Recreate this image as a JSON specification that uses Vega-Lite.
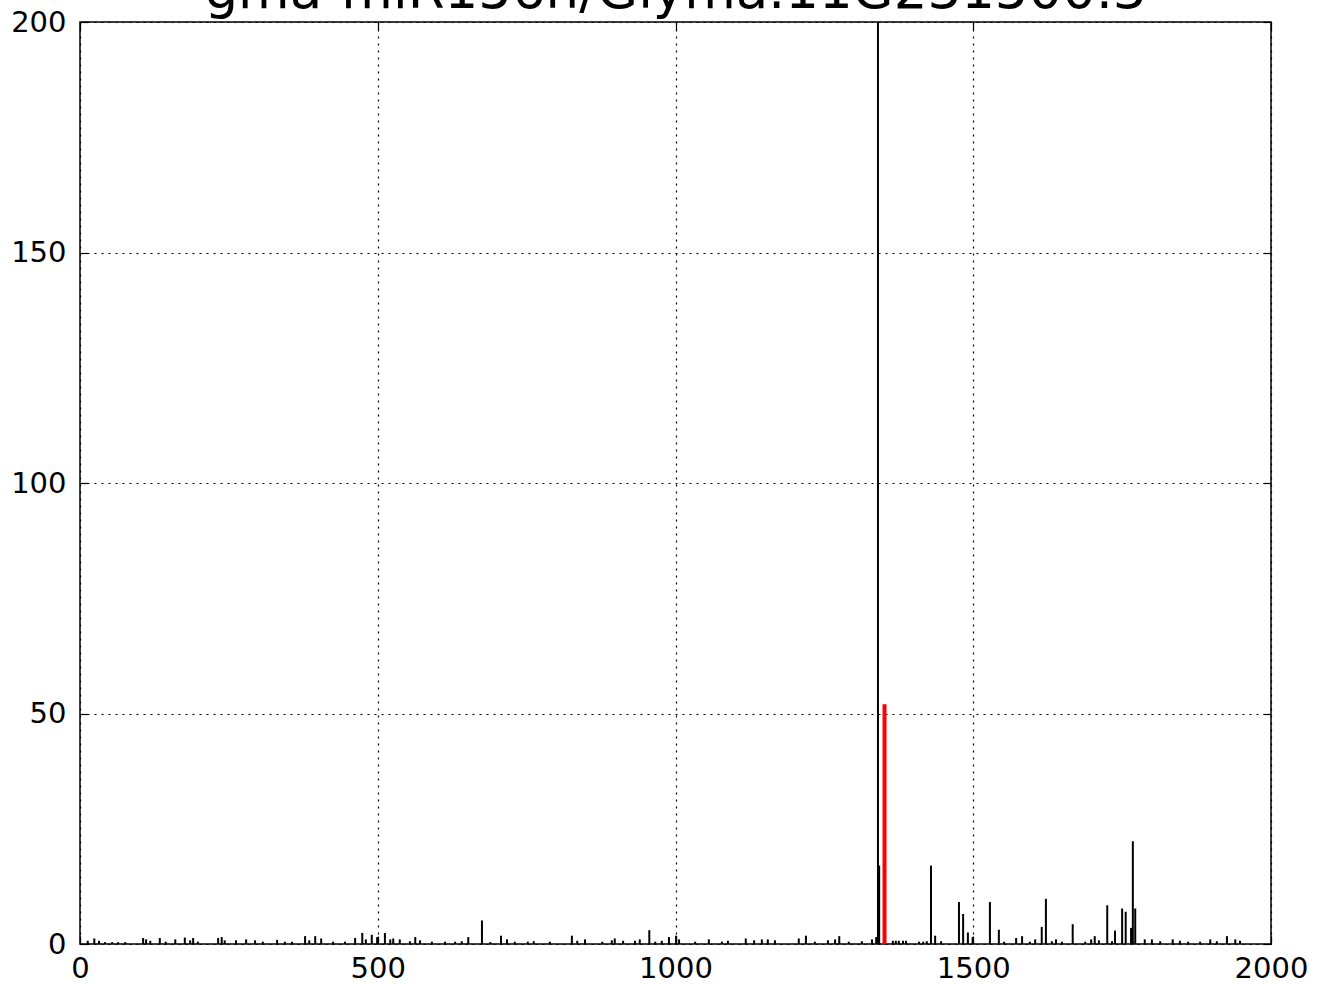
{
  "$schema": "https://vega.github.io/schema/vega-lite/v6.json",
  "autosize": {"type": "none"},
  "padding": {"left": 80, "top": 22, "right": 47, "bottom": 41},
  "width": 1191,
  "height": 922,
  "title": {
    "text": "gma-miR156h/Glyma.11G231500.3",
    "font": "DejaVu Sans",
    "fontSize": 53,
    "fontWeight": "normal",
    "color": "black",
    "anchor": "middle",
    "frame": "group",
    "baseline": "alphabetic",
    "offset": 0,
    "dy": 53
  },
  "config": {
    "view": {"stroke": "black", "strokeWidth": 1.5},
    "axis": {
      "labelFont": "DejaVu Sans",
      "labelFontSize": 29,
      "labelColor": "black",
      "domain": false,
      "tickColor": "black",
      "tickWidth": 1.2,
      "tickSize": -8,
      "gridColor": "black",
      "gridDash": [2, 5],
      "gridWidth": 1.2,
      "gridOpacity": 1,
      "title": null,
      "format": "d"
    }
  },
  "datasets": {
    "reads": [
      {"pos": 13, "count": 0.7}, {"pos": 24, "count": 1.2}, {"pos": 32, "count": 0.7}, {"pos": 42, "count": 0.4},
      {"pos": 54, "count": 0.4}, {"pos": 64, "count": 0.4}, {"pos": 76, "count": 0.4}, {"pos": 106, "count": 1.3},
      {"pos": 111, "count": 1.0}, {"pos": 118, "count": 0.7}, {"pos": 134, "count": 1.3}, {"pos": 144, "count": 0.5},
      {"pos": 160, "count": 1.0}, {"pos": 176, "count": 1.4}, {"pos": 185, "count": 0.8}, {"pos": 190, "count": 1.3},
      {"pos": 198, "count": 0.5}, {"pos": 232, "count": 1.3}, {"pos": 238, "count": 1.5}, {"pos": 243, "count": 0.8},
      {"pos": 262, "count": 0.8}, {"pos": 279, "count": 1.0}, {"pos": 294, "count": 0.8}, {"pos": 307, "count": 0.5},
      {"pos": 331, "count": 0.9}, {"pos": 344, "count": 0.5}, {"pos": 356, "count": 0.5}, {"pos": 378, "count": 1.7},
      {"pos": 385, "count": 0.8}, {"pos": 395, "count": 1.7}, {"pos": 405, "count": 1.2}, {"pos": 425, "count": 0.5},
      {"pos": 445, "count": 0.5}, {"pos": 462, "count": 1.3}, {"pos": 474, "count": 2.4}, {"pos": 480, "count": 1.0},
      {"pos": 490, "count": 2.0}, {"pos": 499, "count": 1.5}, {"pos": 512, "count": 2.4}, {"pos": 521, "count": 1.0},
      {"pos": 526, "count": 1.2}, {"pos": 537, "count": 1.0}, {"pos": 554, "count": 0.6}, {"pos": 563, "count": 1.5},
      {"pos": 571, "count": 0.8}, {"pos": 591, "count": 0.5}, {"pos": 613, "count": 0.5}, {"pos": 630, "count": 0.5},
      {"pos": 641, "count": 0.6}, {"pos": 652, "count": 1.5}, {"pos": 675, "count": 5.1}, {"pos": 689, "count": 0.4},
      {"pos": 707, "count": 1.8}, {"pos": 717, "count": 1.0}, {"pos": 730, "count": 0.5}, {"pos": 752, "count": 0.5},
      {"pos": 762, "count": 0.6}, {"pos": 789, "count": 0.5}, {"pos": 826, "count": 1.8}, {"pos": 835, "count": 0.7},
      {"pos": 848, "count": 1.0}, {"pos": 877, "count": 0.5}, {"pos": 893, "count": 0.8}, {"pos": 898, "count": 1.2},
      {"pos": 912, "count": 0.7}, {"pos": 932, "count": 0.7}, {"pos": 940, "count": 1.0}, {"pos": 956, "count": 3.0},
      {"pos": 966, "count": 0.5}, {"pos": 977, "count": 0.7}, {"pos": 989, "count": 1.5}, {"pos": 1001, "count": 1.8},
      {"pos": 1006, "count": 1.0}, {"pos": 1033, "count": 0.5}, {"pos": 1056, "count": 1.0}, {"pos": 1078, "count": 0.5},
      {"pos": 1088, "count": 0.7}, {"pos": 1118, "count": 1.2}, {"pos": 1132, "count": 0.8}, {"pos": 1145, "count": 1.0},
      {"pos": 1155, "count": 1.0}, {"pos": 1167, "count": 0.8}, {"pos": 1207, "count": 1.2}, {"pos": 1219, "count": 1.8},
      {"pos": 1234, "count": 0.5}, {"pos": 1256, "count": 0.8}, {"pos": 1268, "count": 1.0}, {"pos": 1275, "count": 1.7},
      {"pos": 1291, "count": 0.5}, {"pos": 1313, "count": 0.6}, {"pos": 1330, "count": 1.0}, {"pos": 1337, "count": 1.5},
      {"pos": 1340, "count": 230}, {"pos": 1342, "count": 17}, {"pos": 1365, "count": 0.7}, {"pos": 1370, "count": 0.7},
      {"pos": 1375, "count": 0.7}, {"pos": 1382, "count": 0.7}, {"pos": 1387, "count": 0.7}, {"pos": 1409, "count": 0.5},
      {"pos": 1416, "count": 0.5}, {"pos": 1422, "count": 0.6}, {"pos": 1429, "count": 17}, {"pos": 1436, "count": 1.8},
      {"pos": 1446, "count": 0.6}, {"pos": 1476, "count": 9.1}, {"pos": 1483, "count": 6.5}, {"pos": 1491, "count": 2.5},
      {"pos": 1499, "count": 1.5}, {"pos": 1528, "count": 9.1}, {"pos": 1543, "count": 3.1}, {"pos": 1552, "count": 0.5},
      {"pos": 1572, "count": 1.3}, {"pos": 1582, "count": 1.7}, {"pos": 1595, "count": 0.5}, {"pos": 1604, "count": 1.0},
      {"pos": 1615, "count": 3.7}, {"pos": 1622, "count": 9.8}, {"pos": 1632, "count": 0.6}, {"pos": 1639, "count": 1.0},
      {"pos": 1649, "count": 0.5}, {"pos": 1667, "count": 4.3}, {"pos": 1688, "count": 0.5}, {"pos": 1698, "count": 1.0},
      {"pos": 1704, "count": 1.7}, {"pos": 1711, "count": 0.8}, {"pos": 1725, "count": 8.4}, {"pos": 1733, "count": 0.6},
      {"pos": 1738, "count": 2.9}, {"pos": 1750, "count": 7.7}, {"pos": 1756, "count": 7.0}, {"pos": 1765, "count": 3.5},
      {"pos": 1768, "count": 22.3}, {"pos": 1772, "count": 7.7}, {"pos": 1788, "count": 1.0}, {"pos": 1800, "count": 1.0},
      {"pos": 1814, "count": 0.6}, {"pos": 1835, "count": 1.0}, {"pos": 1847, "count": 0.7}, {"pos": 1861, "count": 0.5},
      {"pos": 1881, "count": 0.5}, {"pos": 1898, "count": 1.0}, {"pos": 1909, "count": 0.6}, {"pos": 1926, "count": 1.7},
      {"pos": 1940, "count": 1.0}, {"pos": 1948, "count": 0.7}
    ],
    "target": [{"pos": 1351, "count": 52}]
  },
  "layer": [
    {
      "data": {"name": "reads"},
      "mark": {"type": "rule", "color": "black", "strokeWidth": 2, "clip": true},
      "encoding": {
        "x": {
          "field": "pos", "type": "quantitative",
          "scale": {"domain": [0, 2000], "nice": false, "zero": false},
          "axis": {"orient": "bottom", "values": [0, 500, 1000, 1500, 2000], "grid": true, "labelPadding": 18, "labelFlush": false}
        },
        "y": {
          "field": "count", "type": "quantitative",
          "scale": {"domain": [0, 200], "nice": false, "clamp": true},
          "axis": {"orient": "left", "values": [0, 50, 100, 150, 200], "grid": true, "labelPadding": 22, "labelFlush": false}
        },
        "y2": {"datum": 0}
      }
    },
    {
      "data": {"name": "target"},
      "mark": {"type": "rule", "color": "#ff0000", "strokeWidth": 4, "clip": true},
      "encoding": {
        "x": {
          "field": "pos", "type": "quantitative",
          "axis": {"orient": "top", "values": [0, 500, 1000, 1500, 2000], "grid": false, "labels": false}
        },
        "y": {
          "field": "count", "type": "quantitative",
          "axis": {"orient": "right", "values": [0, 50, 100, 150, 200], "grid": false, "labels": false}
        },
        "y2": {"datum": 0}
      }
    }
  ],
  "resolve": {"axis": {"x": "independent", "y": "independent"}}
}
